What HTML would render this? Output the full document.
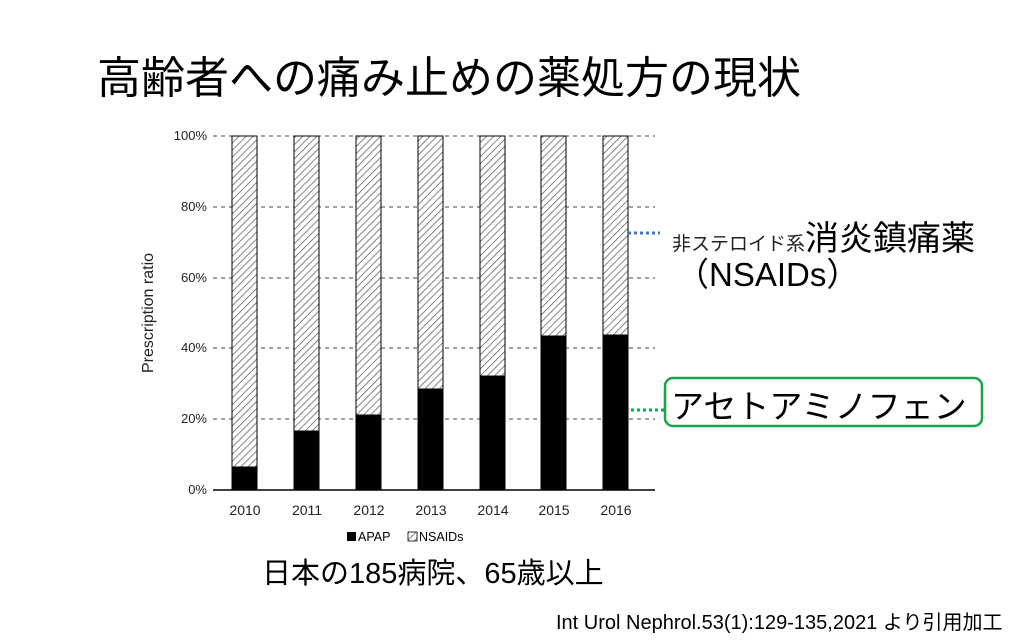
<!DOCTYPE html>
<html><head><meta charset="utf-8"><style>
body{margin:0;width:1024px;height:644px;background:#fff;overflow:hidden;font-family:"Liberation Sans","Noto Sans CJK JP",sans-serif;}
.a{position:absolute;white-space:nowrap;color:#000;}
</style></head><body>
<div class="a" style="left:97px;top:42px;font-size:44px;">高齢者への痛み止めの薬処方の現状</div>
<svg class="a" style="left:0;top:0" width="1024" height="644">
<defs><pattern id="h" width="5" height="5" patternUnits="userSpaceOnUse" patternTransform="rotate(45)"><rect width="5" height="5" fill="#fff"/><line x1="0" y1="0" x2="0" y2="5" stroke="#666" stroke-width="1.6"/></pattern></defs>
<g stroke="#444" stroke-dasharray="4,4" stroke-width="1">
<line x1="213" y1="136" x2="655" y2="136"/><line x1="213" y1="207" x2="655" y2="207"/><line x1="213" y1="278" x2="655" y2="278"/><line x1="213" y1="348" x2="655" y2="348"/><line x1="213" y1="419" x2="655" y2="419"/></g>
<g font-size="13" text-anchor="end" font-family="Liberation Sans" fill="#222">
<text x="207" y="140">100%</text><text x="207" y="211">80%</text><text x="207" y="282">60%</text><text x="207" y="352">40%</text><text x="207" y="423">20%</text><text x="207" y="494">0%</text></g>
<g stroke="#000" stroke-width="1">
<rect x="232" y="136" width="25" height="354" fill="url(#h)"/><rect x="232" y="467" width="25" height="23" fill="#000"/>
<rect x="294" y="136" width="25" height="354" fill="url(#h)"/><rect x="294" y="431" width="25" height="59" fill="#000"/>
<rect x="356" y="136" width="25" height="354" fill="url(#h)"/><rect x="356" y="415" width="25" height="75" fill="#000"/>
<rect x="418" y="136" width="25" height="354" fill="url(#h)"/><rect x="418" y="389" width="25" height="101" fill="#000"/>
<rect x="480" y="136" width="25" height="354" fill="url(#h)"/><rect x="480" y="376" width="25" height="114" fill="#000"/>
<rect x="541" y="136" width="25" height="354" fill="url(#h)"/><rect x="541" y="336" width="25" height="154" fill="#000"/>
<rect x="603" y="136" width="25" height="354" fill="url(#h)"/><rect x="603" y="335" width="25" height="155" fill="#000"/>
</g>
<line x1="213" y1="490" x2="655" y2="490" stroke="#000" stroke-width="1.5"/>
<g font-size="14" text-anchor="middle" font-family="Liberation Sans" fill="#222">
<text x="245" y="515">2010</text><text x="307" y="515">2011</text><text x="369" y="515">2012</text><text x="431" y="515">2013</text><text x="493" y="515">2014</text><text x="554" y="515">2015</text><text x="616" y="515">2016</text></g>
<text transform="translate(153,313) rotate(-90)" font-size="16" text-anchor="middle" font-family="Liberation Sans" fill="#222">Prescription ratio</text>
<rect x="347" y="532" width="9" height="9" fill="#000"/><text x="358" y="541" font-size="12.5" font-family="Liberation Sans">APAP</text>
<rect x="408" y="532" width="9" height="9" fill="url(#h)" stroke="#000" stroke-width="0.8"/><text x="419" y="541" font-size="12.5" font-family="Liberation Sans">NSAIDs</text>
<line x1="628" y1="233" x2="660" y2="233" stroke="#4472c4" stroke-width="3" stroke-dasharray="3,3"/>
<line x1="631" y1="410" x2="664" y2="410" stroke="#00b050" stroke-width="3" stroke-dasharray="3,3"/>
<rect x="665" y="378" width="317" height="48" rx="8" fill="none" stroke="#1aa34a" stroke-width="2.5"/>
</svg>
<div class="a" style="left:672px;top:211px;font-size:19px;color:#222;">非ステロイド系<span style="font-size:34px;color:#000;">消炎鎮痛薬</span></div>
<div class="a" style="left:676px;top:248px;font-size:33px;">（NSAIDs）</div>
<div class="a" style="left:671px;top:380px;font-size:33px;">アセトアミノフェン</div>
<div class="a" style="left:262px;top:550px;font-size:29px;">日本の185病院、65歳以上</div>
<div class="a" style="left:556px;top:606px;font-size:20px;">Int Urol Nephrol.53(1):129-135,2021 より引用加工</div>
</body></html>
